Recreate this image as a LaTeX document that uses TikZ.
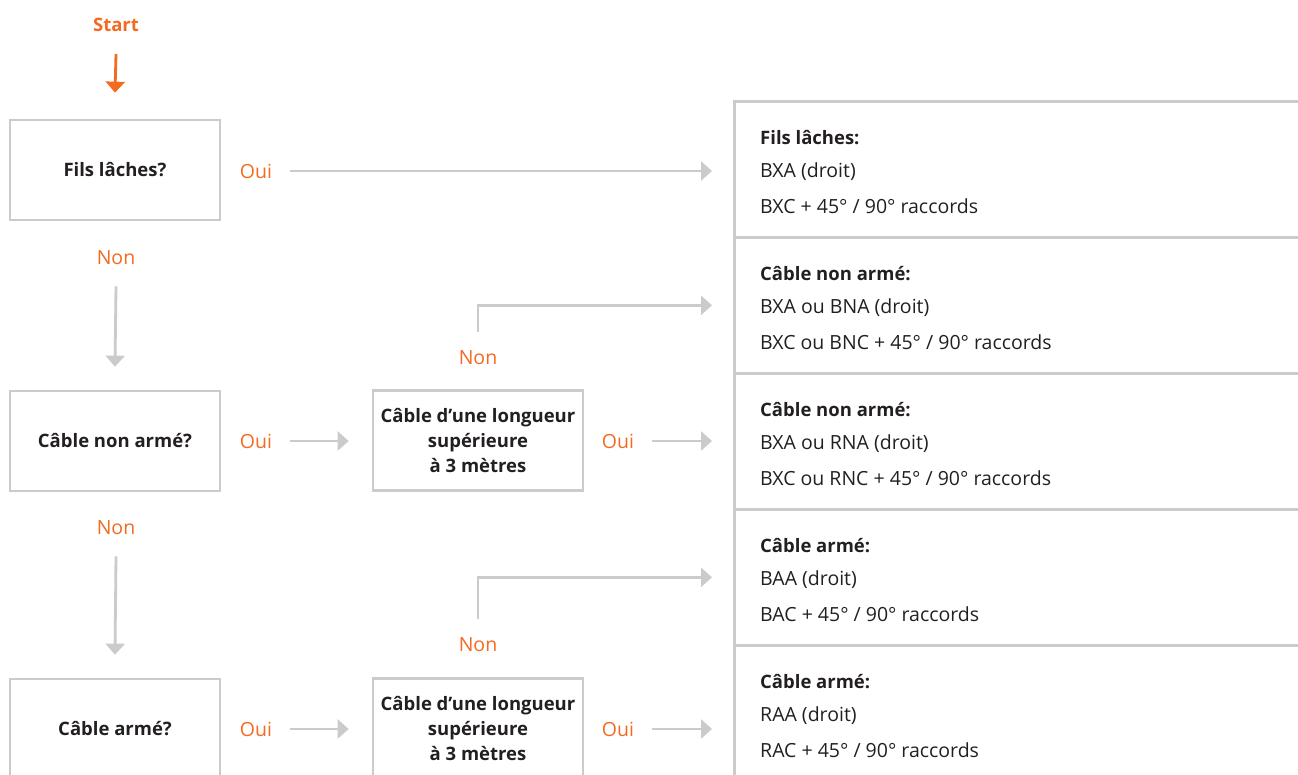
\documentclass[tikz,border=0pt]{standalone}
\usepackage{fontspec}
\setmainfont{Open Sans}
\usetikzlibrary{arrows.meta,positioning}
\definecolor{accent}{HTML}{F26B21}
\definecolor{rulegray}{HTML}{CBCBCB}
\definecolor{ink}{HTML}{231F20}

\begin{document}
\begin{tikzpicture}[x=1pt, y=-1pt, >={Triangle[length=11pt,width=19pt]},
	every node/.style={font=\fontsize{19.5}{23}\selectfont, text=ink, inner sep=2pt},
	question/.style={draw=rulegray, line width=2.7pt, minimum width=210pt, minimum height=100pt, align=center, font=\bfseries\fontsize{18.5}{25}\selectfont},
	panel/.style={draw=rulegray, line width=2.7pt, anchor=north west, minimum width=600pt, minimum height=136pt},
	answer/.style={text=accent},
	title/.style={anchor=west, font=\bfseries\fontsize{18.5}{23}\selectfont},
	item/.style={anchor=west},
	flow/.style={->, draw=rulegray, line width=2.8pt}]
	\useasboundingbox (0,0) rectangle (1298,774);
	% start
	\node[font=\bfseries\fontsize{18.5}{23}\selectfont, text=accent] (start) at (116,25) {Start};
	% questions
	\node[question] (q1) at (115,170) {Fils lâches?};
	\node[question] (q2) at (115,441) {Câble non armé?};
	\node[question] (q3) at (115,729) {Câble armé?};
	\node[question] (len1) at (478,440.5) {Câble d’une longueur\\supérieure\\à 3 mètres};
	\node[question] (len2) at (478,728.5) {Câble d’une longueur\\supérieure\\à 3 mètres};
	% panels
	\node[panel] (p1) at (733,100) {};
	\node[panel] (p2) at (733,236) {};
	\node[panel] (p3) at (733,372) {};
	\node[panel] (p4) at (733,508) {};
	\node[panel] (p5) at (733,644) {};
	\node[title] (p1a) at (758,138) {Fils lâches:};
	\node[item] (p1b) at (758,172) {BXA (droit)};
	\node[item] (p1c) at (758,206) {BXC + 45° / 90° raccords};
	\node[title] (p2a) at (758,274) {Câble non armé:};
	\node[item] (p2b) at (758,308) {BXA ou BNA (droit)};
	\node[item] (p2c) at (758,342) {BXC ou BNC + 45° / 90° raccords};
	\node[title] (p3a) at (758,410) {Câble non armé:};
	\node[item] (p3b) at (758,444) {BXA ou RNA (droit)};
	\node[item] (p3c) at (758,478) {BXC ou RNC + 45° / 90° raccords};
	\node[title] (p4a) at (758,546) {Câble armé:};
	\node[item] (p4b) at (758,580) {BAA (droit)};
	\node[item] (p4c) at (758,614) {BAC + 45° / 90° raccords};
	\node[title] (p5a) at (758,682) {Câble armé:};
	\node[item] (p5b) at (758,716) {RAA (droit)};
	\node[item] (p5c) at (758,750) {RAC + 45° / 90° raccords};
	% answers
	\node[answer] (o1) at (256,171) {Oui};
	\node[answer] (o2) at (256,441) {Oui};
	\node[answer] (o3) at (256,729) {Oui};
	\node[answer] (o4) at (618,441) {Oui};
	\node[answer] (o5) at (618,729) {Oui};
	\node[answer] (n1) at (116,258) {Non};
	\node[answer] (n2) at (116,528) {Non};
	\node[answer] (n3) at (478,358) {Non};
	\node[answer] (n4) at (478,645) {Non};
	% connectors
	\draw[->, draw=accent, line width=2.8pt] ([yshift=-20pt]start.south) -- ([yshift=26pt]q1.north);
	\draw[flow] ([yshift=-19pt]n1.south) -- ([yshift=23pt]q2.north);
	\draw[flow] ([yshift=-19pt]n2.south) -- ([yshift=23pt]q3.north);
	\draw[flow] ([xshift=16pt]o1.east) -- ([xshift=-21pt]p1.west |- o1);
	\draw[flow] ([xshift=16pt]o2.east) -- ([xshift=-23pt]len1.west |- o2);
	\draw[flow] ([xshift=16pt]o3.east) -- ([xshift=-23pt]len2.west |- o3);
	\draw[flow] ([xshift=16pt]o4.east) -- ([xshift=-21pt]p3.west |- o4);
	\draw[flow] ([xshift=16pt]o5.east) -- ([xshift=-21pt]p5.west |- o5);
	\draw[flow] ([yshift=17pt]n3.north) |- ([xshift=-21pt]p2.west);
	\draw[flow] ([yshift=17pt]n4.north) |- ([xshift=-21pt]p4.west);
\end{tikzpicture}
\end{document}
